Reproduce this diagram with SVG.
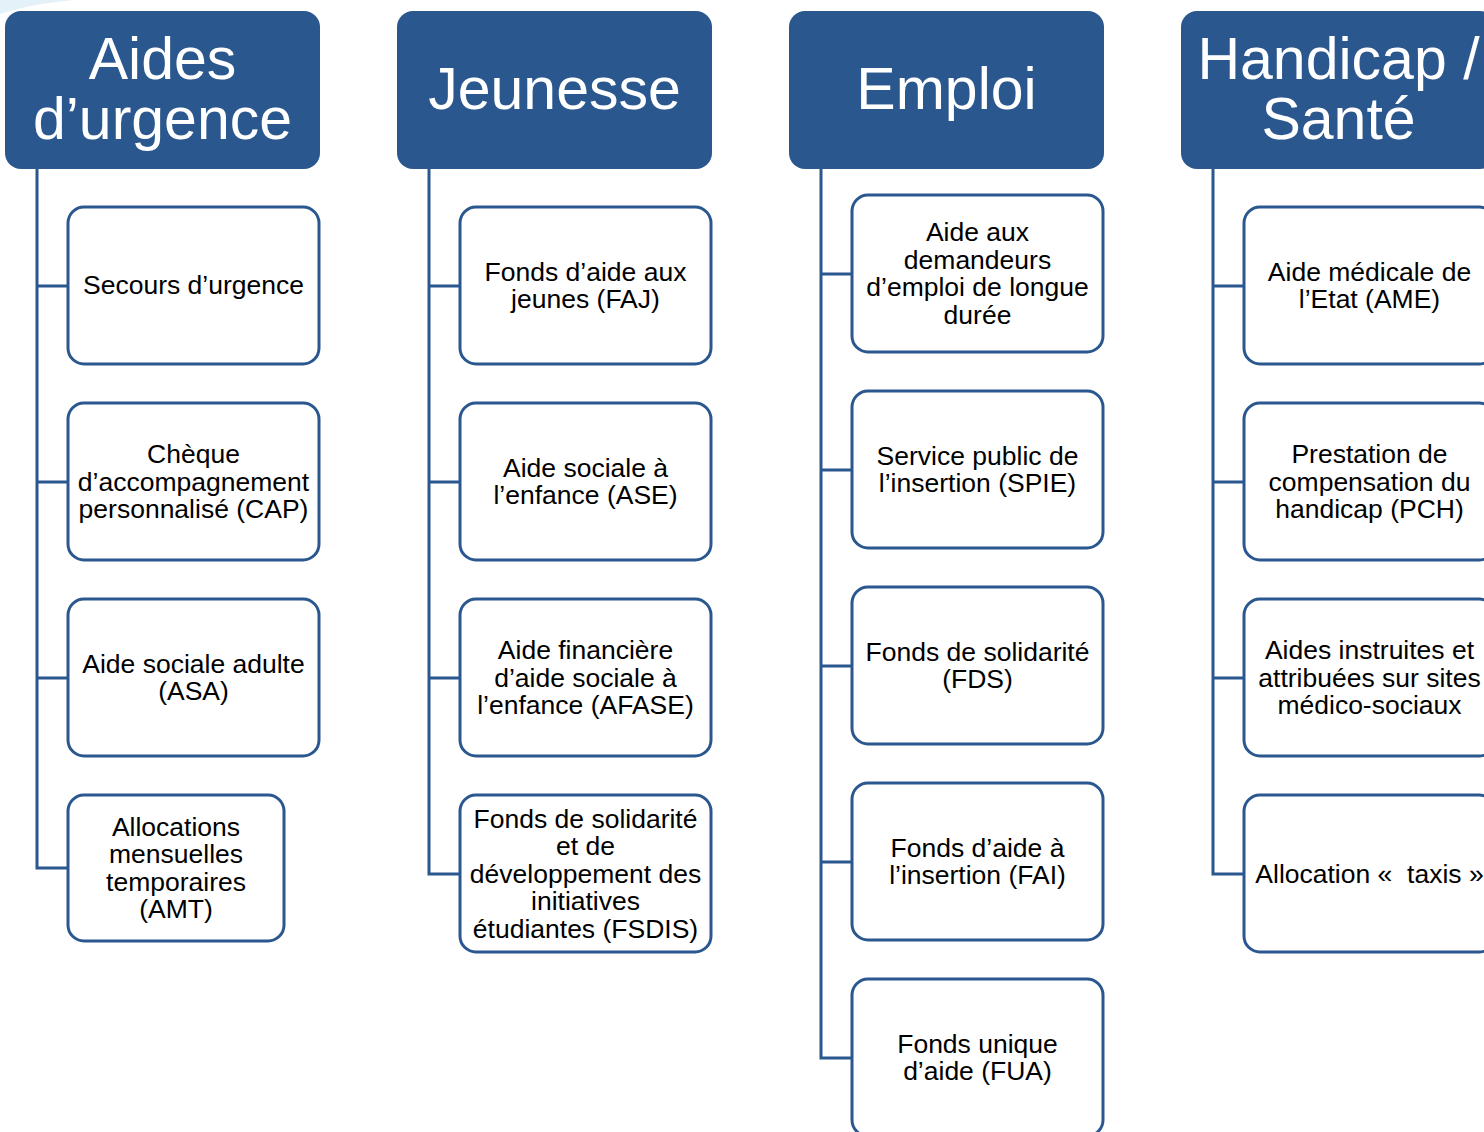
<svg xmlns="http://www.w3.org/2000/svg" width="1484" height="1132" viewBox="0 0 1484 1132">
<style>
.hdr{fill:#2B578F;}
.htxt{fill:#fff;font-family:"Liberation Sans",Arial,sans-serif;font-size:59px;text-anchor:middle;}
.box{fill:#fff;stroke:#2B578F;stroke-width:3;}
.txt{fill:#000;font-family:"Liberation Sans",Arial,sans-serif;font-size:26.5px;text-anchor:middle;}
.conn{fill:none;stroke:#2B578F;stroke-width:3;}
</style>
<rect width="1484" height="1132" fill="#fff"/>
<path d="M0,0 L75,0 Q30,4 0,14 Z" fill="#E4F1F8"/>
<g id="connectors">
<path class="conn" d="M37,169 V868 H68 M37,286 H68 M37,482 H68 M37,678 H68"/>
<path class="conn" d="M429,169 V874 H460 M429,286 H460 M429,482 H460 M429,678 H460"/>
<path class="conn" d="M821,169 V1058 H852 M821,274 H852 M821,470 H852 M821,666 H852 M821,862 H852"/>
<path class="conn" d="M1213,169 V874 H1244 M1213,286 H1244 M1213,482 H1244 M1213,678 H1244"/>
</g>
<g id="h1"><rect class="hdr" x="5" y="11" width="315" height="158" rx="16"/><text class="htxt" x="162.5" y="79">Aides</text><text class="htxt" x="162.5" y="139">d’urgence</text></g>
<g id="h2"><rect class="hdr" x="397" y="11" width="315" height="158" rx="16"/><text class="htxt" x="554.5" y="109">Jeunesse</text></g>
<g id="h3"><rect class="hdr" x="789" y="11" width="315" height="158" rx="16"/><text class="htxt" x="946.5" y="109">Emploi</text></g>
<g id="h4"><rect class="hdr" x="1181" y="11" width="315" height="158" rx="16"/><text class="htxt" x="1338.5" y="79">Handicap /</text><text class="htxt" x="1338.5" y="139">Santé</text></g>

<g id="c1a"><rect class="box" x="68" y="207" width="251" height="157" rx="16"/><text class="txt" x="193.5" y="294">Secours d’urgence</text></g>
<g id="c1b"><rect class="box" x="68" y="403" width="251" height="157" rx="16"/><text class="txt" x="193.5" y="463">Chèque</text><text class="txt" x="193.5" y="490.5">d’accompagnement</text><text class="txt" x="193.5" y="518">personnalisé (CAP)</text></g>
<g id="c1c"><rect class="box" x="68" y="599" width="251" height="157" rx="16"/><text class="txt" x="193.5" y="672.75">Aide sociale adulte</text><text class="txt" x="193.5" y="700.25">(ASA)</text></g>
<g id="c1d"><rect class="box" x="68" y="795" width="216" height="146" rx="16"/><text class="txt" x="176" y="835.75">Allocations</text><text class="txt" x="176" y="863.25">mensuelles</text><text class="txt" x="176" y="890.75">temporaires</text><text class="txt" x="176" y="918.25">(AMT)</text></g>

<g id="c2a"><rect class="box" x="460" y="207" width="251" height="157" rx="16"/><text class="txt" x="585.5" y="280.75">Fonds d’aide aux</text><text class="txt" x="585.5" y="308.25">jeunes (FAJ)</text></g>
<g id="c2b"><rect class="box" x="460" y="403" width="251" height="157" rx="16"/><text class="txt" x="585.5" y="476.75">Aide sociale à</text><text class="txt" x="585.5" y="504.25">l’enfance (ASE)</text></g>
<g id="c2c"><rect class="box" x="460" y="599" width="251" height="157" rx="16"/><text class="txt" x="585.5" y="659">Aide financière</text><text class="txt" x="585.5" y="686.5">d’aide sociale à</text><text class="txt" x="585.5" y="714">l’enfance (AFASE)</text></g>
<g id="c2d"><rect class="box" x="460" y="795" width="251" height="157" rx="16"/><text class="txt" x="585.5" y="827.5">Fonds de solidarité</text><text class="txt" x="585.5" y="855">et de</text><text class="txt" x="585.5" y="882.5">développement des</text><text class="txt" x="585.5" y="910">initiatives</text><text class="txt" x="585.5" y="937.5">étudiantes (FSDIS)</text></g>

<g id="c3a"><rect class="box" x="852" y="195" width="251" height="157" rx="16"/><text class="txt" x="977.5" y="241.25">Aide aux</text><text class="txt" x="977.5" y="268.75">demandeurs</text><text class="txt" x="977.5" y="296.25">d’emploi de longue</text><text class="txt" x="977.5" y="323.75">durée</text></g>
<g id="c3b"><rect class="box" x="852" y="391" width="251" height="157" rx="16"/><text class="txt" x="977.5" y="464.75">Service public de</text><text class="txt" x="977.5" y="492.25">l’insertion (SPIE)</text></g>
<g id="c3c"><rect class="box" x="852" y="587" width="251" height="157" rx="16"/><text class="txt" x="977.5" y="660.75">Fonds de solidarité</text><text class="txt" x="977.5" y="688.25">(FDS)</text></g>
<g id="c3d"><rect class="box" x="852" y="783" width="251" height="157" rx="16"/><text class="txt" x="977.5" y="856.75">Fonds d’aide à</text><text class="txt" x="977.5" y="884.25">l’insertion (FAI)</text></g>
<g id="c3e"><rect class="box" x="852" y="979" width="251" height="157" rx="16"/><text class="txt" x="977.5" y="1052.75">Fonds unique</text><text class="txt" x="977.5" y="1080.25">d’aide (FUA)</text></g>

<g id="c4a"><rect class="box" x="1244" y="207" width="251" height="157" rx="16"/><text class="txt" x="1369.5" y="280.75">Aide médicale de</text><text class="txt" x="1369.5" y="308.25">l’Etat (AME)</text></g>
<g id="c4b"><rect class="box" x="1244" y="403" width="251" height="157" rx="16"/><text class="txt" x="1369.5" y="463">Prestation de</text><text class="txt" x="1369.5" y="490.5">compensation du</text><text class="txt" x="1369.5" y="518">handicap (PCH)</text></g>
<g id="c4c"><rect class="box" x="1244" y="599" width="251" height="157" rx="16"/><text class="txt" x="1369.5" y="659">Aides instruites et</text><text class="txt" x="1369.5" y="686.5">attribuées sur sites</text><text class="txt" x="1369.5" y="714">médico-sociaux</text></g>
<g id="c4d"><rect class="box" x="1244" y="795" width="251" height="157" rx="16"/><text class="txt" x="1369.5" y="882.5">Allocation « &#160;taxis »</text></g>
</svg>
